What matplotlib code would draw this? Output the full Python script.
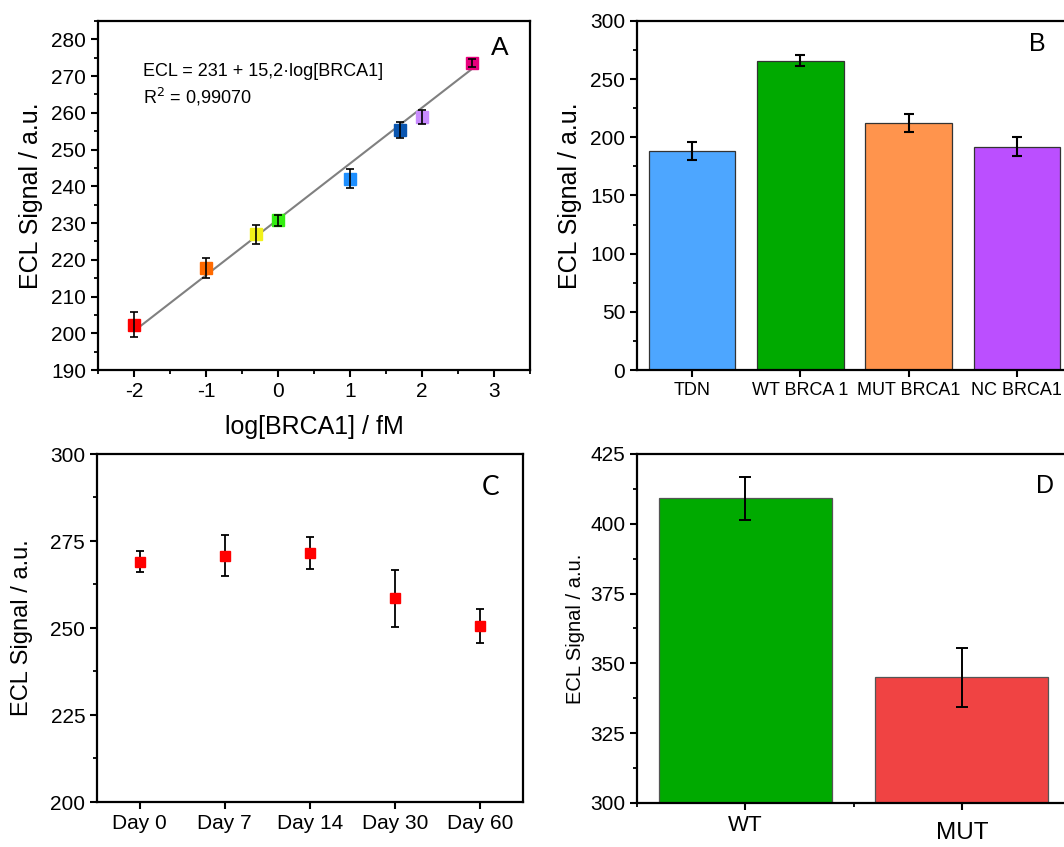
import matplotlib.pyplot as plt
import numpy as np
from matplotlib.ticker import MultipleLocator

plt.rcParams['font.family'] = ['Liberation Sans', 'DejaVu Sans']
plt.rcParams['axes.unicode_minus'] = False

# panel A - calibration
log_conc = [-2, -1, -0.3, 0, 1, 1.7, 2, 2.7]
ecl_conc = [202.3, 217.8, 226.9, 230.8, 242.1, 255.3, 258.8, 273.6]
ecl_conc_err = [3.4, 2.8, 2.7, 1.5, 2.6, 2.2, 1.9, 1.1]
conc_colors = ['#ff0000', '#ff6a00', '#f2f21a', '#33ee11', '#1e8fff',
               '#0a56b0', '#c98cff', '#e8007d']
fit_intercept = 231
fit_slope = 15.2

# panel B - selectivity
sel_labels = ['TDN', 'WT BRCA 1', 'MUT BRCA1', 'NC BRCA1']
sel_values = [188.2, 266.0, 212.3, 192.0]
sel_err = [8.0, 4.4, 7.5, 8.0]
sel_colors = ['#4da6ff', '#00aa00', '#ff944d', '#bb4fff']

# panel C - stability
days = ['Day 0', 'Day 7', 'Day 14', 'Day 30', 'Day 60']
day_values = [269.0, 270.7, 271.6, 258.5, 250.7]
day_err = [3.0, 5.9, 4.6, 8.3, 4.9]

# panel D - WT vs MUT
mut_labels = ['WT', 'MUT']
mut_values = [409.1, 345.0]
mut_err = [7.7, 10.6]
mut_colors = ['#00aa00', '#f04343']

W, H = 1064, 847
fig = plt.figure(figsize=(W / 100, H / 100), dpi=100)


def px_axes(l, t, r, b):
    return fig.add_axes([l / W, 1 - b / H, (r - l) / W, (b - t) / H])


def px_text(x, y, s, **kw):
    fig.text(x / W, 1 - y / H, s, ha='center', va='center', **kw)


def style(ax):
    for s in ax.spines.values():
        s.set_linewidth(1.6)
    ax.tick_params(which='major', direction='out', length=5, width=1.5,
                   labelsize=15, top=False, right=False)
    ax.tick_params(which='minor', direction='out', length=3, width=1.3,
                   top=False, right=False)


# A
axA = px_axes(98, 21, 530, 370)
style(axA)
axA.plot([log_conc[0], log_conc[-1]],
         [fit_intercept + fit_slope * log_conc[0], fit_intercept + fit_slope * log_conc[-1]],
         color='#808080', lw=1.5, zorder=1)
for x, y, e, c in zip(log_conc, ecl_conc, ecl_conc_err, conc_colors):
    axA.plot(x, y, 's', color=c, ms=8, zorder=2)
    axA.errorbar(x, y, yerr=e, fmt='none', ecolor='black',
                 elinewidth=1.2, capsize=3, capthick=1.2, zorder=3)
axA.set_xlim(-2.5, 3.5)
axA.set_ylim(190, 285)
axA.xaxis.set_minor_locator(MultipleLocator(0.5))
axA.yaxis.set_major_locator(MultipleLocator(10))
axA.yaxis.set_minor_locator(MultipleLocator(5))
axA.set_xticks([-2, -1, 0, 1, 2, 3])
axA.set_xlabel('log[BRCA1] / fM', fontsize=18, labelpad=10)
axA.set_ylabel('ECL Signal / a.u.', fontsize=18, labelpad=6)
axA.text(0.105, 0.854, 'ECL = 231 + 15,2·log[BRCA1]', transform=axA.transAxes,
         fontsize=13, va='center')
axA.text(0.105, 0.782, 'R$^2$ = 0,99070', transform=axA.transAxes,
         fontsize=13, va='center')
px_text(500, 48, 'A', fontsize=19)

# B
axB = px_axes(637, 21, 1071, 370)
style(axB)
xb = np.arange(len(sel_labels))
axB.bar(xb, sel_values, width=0.8, color=sel_colors, edgecolor='#333333', lw=0.9)
axB.errorbar(xb, sel_values, yerr=sel_err, fmt='none', ecolor='black',
             elinewidth=1.5, capsize=3.5, capthick=1.5)
axB.set_xlim(-0.51, 3.5)
axB.set_ylim(0, 300)
axB.set_xticks(xb)
axB.set_xticklabels(sel_labels, fontsize=13)
axB.yaxis.set_major_locator(MultipleLocator(50))
axB.yaxis.set_minor_locator(MultipleLocator(25))
axB.set_ylabel('ECL Signal / a.u.', fontsize=18, labelpad=6)
axB.spines['right'].set_visible(False)
px_text(1037, 44, 'B', fontsize=18)

# C
axC = px_axes(97, 454, 523, 802)
style(axC)
xc = np.arange(len(days))
axC.errorbar(xc, day_values, yerr=day_err, fmt='s', color='#ff0000', ms=7,
             ecolor='black', elinewidth=1.3, capsize=3, capthick=1.3)
axC.set_xlim(-0.5, 4.5)
axC.set_ylim(200, 300)
axC.set_xticks(xc)
axC.set_xticklabels(days, fontsize=15)
axC.yaxis.set_major_locator(MultipleLocator(25))
axC.yaxis.set_minor_locator(MultipleLocator(12.5))
axC.set_ylabel('ECL Signal / a.u.', fontsize=17, labelpad=12)
px_text(491, 487, 'C', fontsize=19, family=['Lato', 'DejaVu Sans'])

# D
axD = px_axes(637, 454, 1070, 803)
style(axD)
xd = np.arange(len(mut_labels))
axD.bar(xd, mut_values, width=0.8, color=mut_colors, edgecolor='#555555', lw=0.9)
axD.errorbar(xd, mut_values, yerr=mut_err, fmt='none', ecolor='black',
             elinewidth=1.4, capsize=4, capthick=1.4)
axD.set_xlim(-0.5, 1.5)
axD.set_ylim(300, 425)
axD.set_xticks(xd)
axD.set_xticklabels(mut_labels, fontsize=16)
axD.get_xticklabels()[1].set_fontsize(17.5)
axD.xaxis.get_major_ticks()[1].set_pad(9)
axD.xaxis.set_minor_locator(MultipleLocator(0.5))
axD.yaxis.set_major_locator(MultipleLocator(25))
axD.yaxis.set_minor_locator(MultipleLocator(12.5))
axD.set_ylabel('ECL Signal / a.u.', fontsize=14.5, labelpad=4)
axD.spines['right'].set_visible(False)
px_text(1045, 486, 'D', fontsize=18)

plt.savefig('out.png', dpi=100)
